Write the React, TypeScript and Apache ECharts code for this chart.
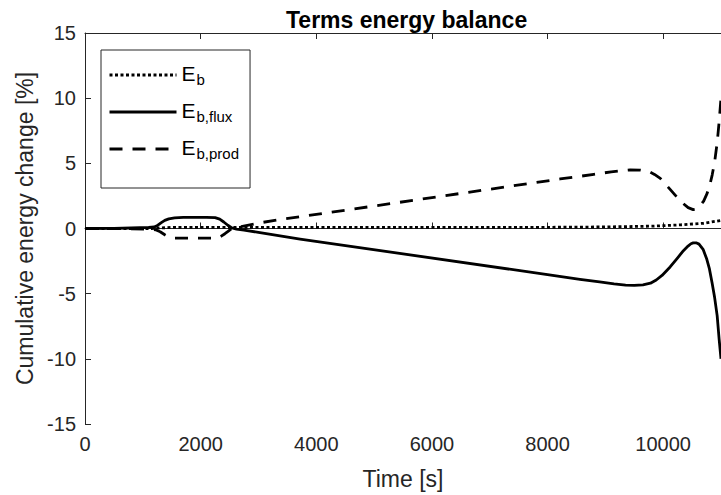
import React, { useEffect, useRef } from "react";
import * as echarts from "echarts";

// Time samples [s] and cumulative energy change [%] for each balance term
const tEb = [0, 1150, 1300, 1500, 8000, 9000, 9800, 10300, 10700, 11000];
const eb = [0, 0, 0.04, 0.08, 0.09, 0.12, 0.18, 0.28, 0.4, 0.62];

const tFlux = [
  0, 500, 800, 1100, 1200, 1260, 1320, 1380, 1450, 1550, 1700, 2100, 2250, 2330,
  2400, 2470, 2540, 2620, 2750, 3000, 3720, 8000, 8560, 8900, 9150, 9350, 9500,
  9650, 9780, 9880, 9980, 10120, 10250, 10350, 10430, 10480, 10520, 10570,
  10620, 10690, 10750, 10800, 10847, 10890, 10934, 10968, 11000,
];
const flux = [
  0, 0.01, 0.04, 0.08, 0.12, 0.25, 0.45, 0.62, 0.74, 0.82, 0.86, 0.86, 0.84,
  0.72, 0.5, 0.25, 0.04, -0.04, -0.12, -0.3, -0.81, -3.54, -3.9, -4.1, -4.25,
  -4.34, -4.37, -4.33, -4.2, -3.95, -3.6, -2.95, -2.25, -1.7, -1.35, -1.17,
  -1.1, -1.1, -1.2, -1.6, -2.3, -3.1, -4.2, -5.3, -6.7, -8.5, -10,
];

const tProd = [
  0, 800, 1100, 1220, 1300, 1380, 1450, 1550, 2280, 2350, 2420, 2480, 2540,
  2620, 2700, 3030, 3430, 3720, 8218, 8800, 9100, 9430, 9600, 9750, 9850, 9950,
  10120, 10250, 10350, 10432, 10518, 10580, 10640, 10700, 10760, 10810, 10847,
  10890, 10934, 10968, 11000,
];
const prod = [
  0, -0.02, -0.05, -0.1, -0.25, -0.48, -0.65, -0.74, -0.74, -0.6, -0.4, -0.2, 0,
  0.08, 0.15, 0.44, 0.72, 0.9, 3.8, 4.15, 4.35, 4.5, 4.48, 4.38, 4.15, 3.85,
  3.0, 2.35, 1.9, 1.6, 1.45, 1.5, 1.75, 2.1, 2.7, 3.4, 4.1, 5.1, 6.6, 8.2, 10,
];

const xTickValues = [0, 2000, 4000, 6000, 8000, 10000];
const yTickValues = [-15, -10, -5, 0, 5, 10, 15];

const FONT = "'Liberation Sans', Arial, Helvetica, sans-serif";
const AXIS_COLOR = "#262626";

const pairs = (t: number[], v: number[]) => t.map((x, i) => [x, v[i]]);

export default function App() {
  const ref = useRef<HTMLDivElement>(null);

  useEffect(() => {
    if (!ref.current) return;
    const chart = echarts.init(ref.current, undefined, { renderer: "svg" });

    const tickStyle = {
      inside: true,
      length: 6,
      lineStyle: { color: AXIS_COLOR, width: 1 },
    };

    const lineSeries = (name: string, t: number[], v: number[], type: any) => ({
      name,
      type: "line",
      data: pairs(t, v),
      symbol: "none",
      smooth: false,
      lineStyle: { color: "#000", width: 2.8, type, cap: "butt", join: "round" },
      itemStyle: { color: "#000" },
      emphasis: { disabled: true },
    });

    chart.setOption({
      animation: false,
      textStyle: { fontFamily: FONT },
      title: {
        text: "Terms energy balance",
        left: 281,
        top: 3,
        textStyle: {
          fontFamily: FONT,
          fontSize: 23,
          fontWeight: "bold",
          color: "#000",
        },
      },
      grid: { left: 85, right: 0, top: 33, bottom: 71 },
      legend: {
        orient: "vertical",
        left: 101,
        top: 50,
        itemWidth: 67,
        itemHeight: 14,
        itemGap: 8,
        padding: [8, 11, 27, 7],
        borderColor: AXIS_COLOR,
        borderWidth: 1,
        backgroundColor: "#fff",
        selectedMode: false,
        itemStyle: { color: "transparent", borderWidth: 0, opacity: 0 },
        lineStyle: { width: 3, color: "#000" },
        formatter: (name: string) => {
          const [base, sub] = name.split("_");
          return `{e|${base}}{s|${sub}}`;
        },
        textStyle: {
          fontFamily: FONT,
          color: "#000",
          rich: {
            e: { fontSize: 21, lineHeight: 24, verticalAlign: "top", fontFamily: FONT, color: "#000" },
            s: {
              fontSize: 15,
              lineHeight: 16,
              padding: [14, 0, 0, 1],
              verticalAlign: "bottom",
              fontFamily: FONT,
              color: "#000",
            },
          },
        },
        data: ["E_b", "E_b,flux", "E_b,prod"],
      },
      xAxis: [
        {
          type: "value",
          position: "bottom",
          min: 0,
          max: 11000,
          interval: 2000,
          axisLine: { lineStyle: { color: AXIS_COLOR, width: 1 } },
          axisTick: tickStyle,
          splitLine: { show: false },
          axisLabel: {
            fontSize: 20,
            color: AXIS_COLOR,
            margin: 10,
            fontFamily: FONT,
            showMaxLabel: false,
            formatter: (v: number) => (xTickValues.includes(v) ? String(v) : ""),
          },
          name: "Time [s]",
          nameLocation: "middle",
          nameGap: 43,
          nameTextStyle: { fontSize: 23, color: AXIS_COLOR, fontFamily: FONT },
        },
        {
          type: "value",
          position: "top",
          min: 0,
          max: 11000,
          interval: 2000,
          axisLine: { lineStyle: { color: AXIS_COLOR, width: 1 } },
          axisTick: tickStyle,
          axisLabel: { show: false },
          splitLine: { show: false },
        },
      ],
      yAxis: {
        type: "value",
        min: -15,
        max: 15,
        interval: 5,
        axisLine: { show: true, lineStyle: { color: AXIS_COLOR, width: 1 } },
        axisTick: tickStyle,
        splitLine: { show: false },
        axisLabel: {
          fontSize: 20,
          color: AXIS_COLOR,
          margin: 9,
          fontFamily: FONT,
          formatter: (v: number) => (yTickValues.includes(v) ? String(v) : ""),
        },
        name: "Cumulative energy change [%]",
        nameLocation: "middle",
        nameGap: 46,
        nameTextStyle: { fontSize: 23, color: AXIS_COLOR, fontFamily: FONT },
      },
      series: [
        lineSeries("E_b", tEb, eb, [3, 2.5]),
        lineSeries("E_b,flux", tFlux, flux, "solid"),
        lineSeries("E_b,prod", tProd, prod, [13, 10]),
      ],
    });

    return () => chart.dispose();
  }, []);

  return (
    <div
      ref={ref}
      style={{ position: "absolute", left: 0, top: 0, width: 721, height: 495, background: "#fff" }}
    />
  );
}
